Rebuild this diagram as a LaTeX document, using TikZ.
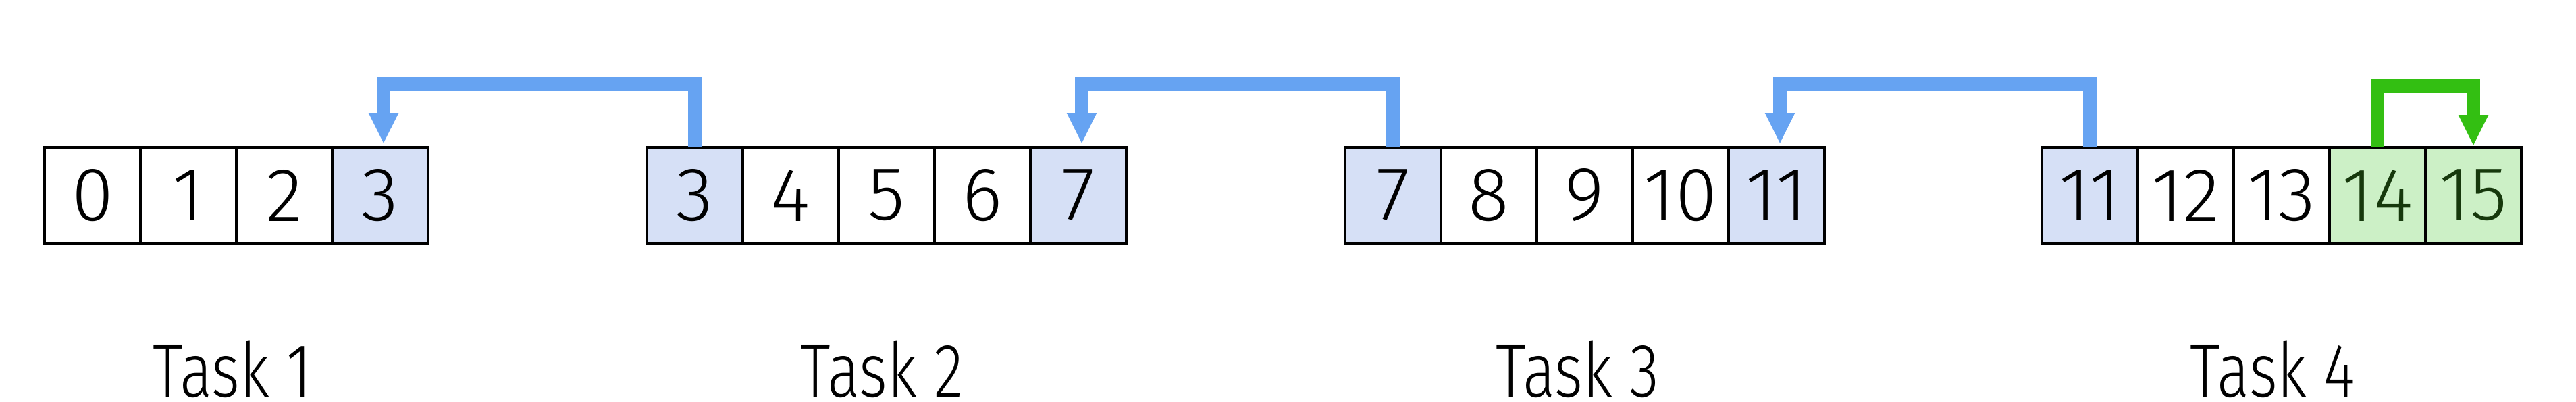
\documentclass[tikz,border=0pt]{standalone}
\usepackage{fontspec}
\setmainfont{Fira Sans}[UprightFont=* Light]
\newfontfamily\labelfont{Fira Sans}[UprightFont=* Light, FakeStretch=0.8]
\definecolor{linkblue}{RGB}{102, 163, 242}
\definecolor{cellblue}{RGB}{214, 224, 246}
\definecolor{cellgreen}{RGB}{204, 240, 198}
\definecolor{linkgreen}{RGB}{51, 191, 18}
\definecolor{textgreen}{RGB}{22, 56, 12}
\usetikzlibrary{arrows.meta, positioning}
\tikzset{
  cell/.style={draw, line width=1.1pt, minimum width=1.42cm, minimum height=1.42cm, inner sep=0pt, outer sep=0pt, font=\fontsize{32}{38}\selectfont},
  bluecell/.style={cell, fill=cellblue},
  greencell/.style={cell, fill=cellgreen, text=textgreen},
  tasklabel/.style={anchor=base, inner sep=0pt, font=\labelfont\fontsize{32}{38}\selectfont},
  link/.style={draw=linkblue, line width=0.2cm, -{Triangle[length=0.46cm, width=0.41cm]}},
  greenlink/.style={link, draw=linkgreen}
}
\begin{document}
\begin{tikzpicture}
  \useasboundingbox (0, 0) rectangle (38.15, 5.94);
  % Task 1
  \node[cell] (t1c0) at (1.37, 3.05) {0};
  \node[cell, right=0pt of t1c0] (t1c1) {1};
  \node[cell, right=0pt of t1c1] (t1c2) {2};
  \node[bluecell, right=0pt of t1c2] (t1c3) {3};
  \node[tasklabel] (task1) at (3.44, 0.07) {Task 1};

  % Task 2
  \node[bluecell] (t2c0) at (10.29, 3.05) {3};
  \node[cell, right=0pt of t2c0] (t2c1) {4};
  \node[cell, right=0pt of t2c1] (t2c2) {5};
  \node[cell, right=0pt of t2c2] (t2c3) {6};
  \node[bluecell, right=0pt of t2c3] (t2c4) {7};
  \node[tasklabel] (task2) at (13.06, 0.07) {Task 2};

  % Task 3
  \node[bluecell] (t3c0) at (20.63, 3.05) {7};
  \node[cell, right=0pt of t3c0] (t3c1) {8};
  \node[cell, right=0pt of t3c1] (t3c2) {9};
  \node[cell, right=0pt of t3c2] (t3c3) {10};
  \node[bluecell, right=0pt of t3c3] (t3c4) {11};
  \node[tasklabel] (task3) at (23.36, 0.07) {Task 3};

  % Task 4
  \node[bluecell] (t4c0) at (30.95, 3.05) {11};
  \node[cell, right=0pt of t4c0] (t4c1) {12};
  \node[cell, right=0pt of t4c1] (t4c2) {13};
  \node[greencell, right=0pt of t4c2] (t4c3) {14};
  \node[greencell, right=0pt of t4c3] (t4c4) {15};
  \node[tasklabel] (task4) at (33.66, 0.07) {Task 4};

  % Overlap links between tasks
  \draw[link] (t2c0.north) -- ++(0, 0.94) -| ([xshift=0.05cm, yshift=0.05cm]t1c3.north);
  \draw[link] (t3c0.north) -- ++(0, 0.94) -| ([xshift=0.05cm, yshift=0.05cm]t2c4.north);
  \draw[link] (t4c0.north) -- ++(0, 0.94) -| ([xshift=0.05cm, yshift=0.05cm]t3c4.north);
  \draw[greenlink] (t4c3.north) -- ++(0, 0.91) -| ([yshift=0.02cm]t4c4.north);
\end{tikzpicture}
\end{document}
